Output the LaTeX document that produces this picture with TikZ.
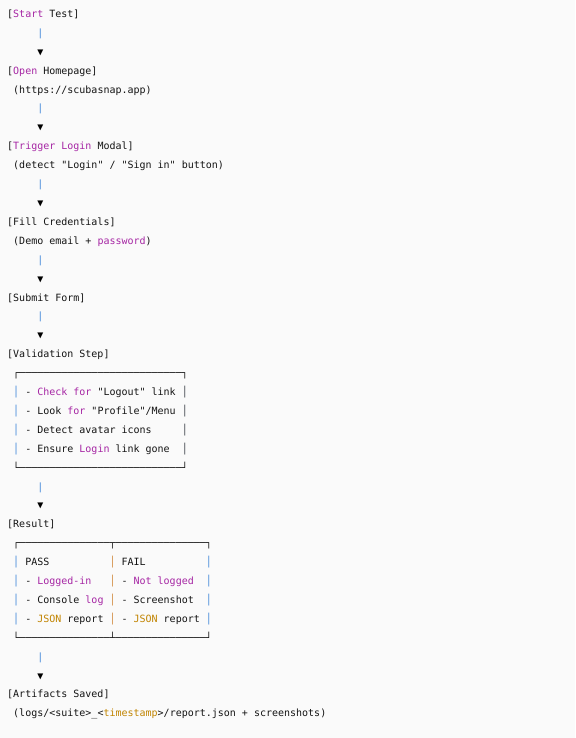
\documentclass[tikz,border=0pt]{standalone}
\usepackage{fontspec}
\setmonofont{DejaVu Sans Mono}
\usetikzlibrary{positioning}

\definecolor{codebg}{HTML}{FAFAFA}
\definecolor{codefg}{HTML}{141414}
\definecolor{keyword}{HTML}{A626A4}
\definecolor{literal}{HTML}{C18401}
\definecolor{pipeblue}{HTML}{3F86D8}
\definecolor{pipeorange}{HTML}{D0883A}
\definecolor{framegray}{HTML}{3A3F47}

\newcommand{\kw}[1]{\textcolor{keyword}{#1}}
\newcommand{\lit}[1]{\textcolor{literal}{#1}}

\tikzset{
  code/.style={anchor=base west, inner sep=0pt, text=codefg,
    font=\ttfamily\fontsize{10}{12}\selectfont},
  pipe/.style={code, text=pipeblue},
  midpipe/.style={code, text=pipeorange},
  edgepipe/.style={code, text=framegray},
  tip/.style={code, text=black}
}

% one | and one arrow head below it
\newcommand{\flowlink}[2]{%
  \node[pipe] (bar#1) at (5,#2) {|};
  \node[tip] (tip#1) at (5,#2+1) {▼};}

\begin{document}
\begin{tikzpicture}[x=6.02pt,y=-18.9pt]
 \fill[codebg] (-7pt,17.5pt) rectangle (568pt,-720.5pt);
 \useasboundingbox (-7pt,17.5pt) rectangle (568pt,-720.5pt);

 \node[code] (start) at (0,0) {[\kw{Start} Test]};
 \flowlink{1}{1}
 \node[code] (open) at (0,3) {[\kw{Open} Homepage]};
 \node[code] (openurl) at (1,4) {(https://scubasnap.app)};
 \flowlink{2}{5}
 \node[code] (trigger) at (0,7) {[\kw{Trigger} \kw{Login} Modal]};
 \node[code] (triggernote) at (1,8) {(detect "Login" / "Sign in" button)};
 \flowlink{3}{9}
 \node[code] (fill) at (0,11) {[Fill Credentials]};
 \node[code] (fillnote) at (1,12) {(Demo email + \kw{password})};
 \flowlink{4}{13}
 \node[code] (submit) at (0,15) {[Submit Form]};
 \flowlink{5}{16}
 \node[code] (validate) at (0,18) {[Validation Step]};

 % validation box
 \node[code] (vtop) at (1,19) {┌───────────────────────────┐};
 \foreach \r in {20,...,23} {
   \node[pipe] (vleft\r) at (1,\r) {│};
   \node[edgepipe] (vright\r) at (29,\r) {│};
 }
 \node[code] (check1) at (3,20) {- \kw{Check} \kw{for} "Logout" link};
 \node[code] (check2) at (3,21) {- Look \kw{for} "Profile"/Menu};
 \node[code] (check3) at (3,22) {- Detect avatar icons};
 \node[code] (check4) at (3,23) {- Ensure \kw{Login} link gone};
 \node[code] (vbottom) at (1,24) {└───────────────────────────┘};

 \flowlink{6}{25}
 \node[code] (result) at (0,27) {[Result]};

 % result table
 \node[code] (rtop) at (1,28) {┌───────────────┬───────────────┐};
 \foreach \r in {29,...,32} {
   \node[pipe] (rleft\r) at (1,\r) {│};
   \node[midpipe] (rmid\r) at (17,\r) {│};
   \node[pipe] (rright\r) at (33,\r) {│};
 }
 \node[code] (pass) at (3,29) {PASS};
 \node[code] (pass1) at (3,30) {- \kw{Logged-in}};
 \node[code] (pass2) at (3,31) {- Console \kw{log}};
 \node[code] (pass3) at (3,32) {- \lit{JSON} report};
 \node[code] (fail) at (19,29) {FAIL};
 \node[code] (fail1) at (19,30) {- \kw{Not logged}};
 \node[code] (fail2) at (19,31) {- Screenshot};
 \node[code] (fail3) at (19,32) {- \lit{JSON} report};
 \node[code] (rbottom) at (1,33) {└───────────────┴───────────────┘};

 \flowlink{7}{34}
 \node[code] (saved) at (0,36) {[Artifacts Saved]};
 \node[code] (savednote) at (1,37) {(logs/<suite>\_<\lit{timestamp}>/report.json + screenshots)};
\end{tikzpicture}
\end{document}
